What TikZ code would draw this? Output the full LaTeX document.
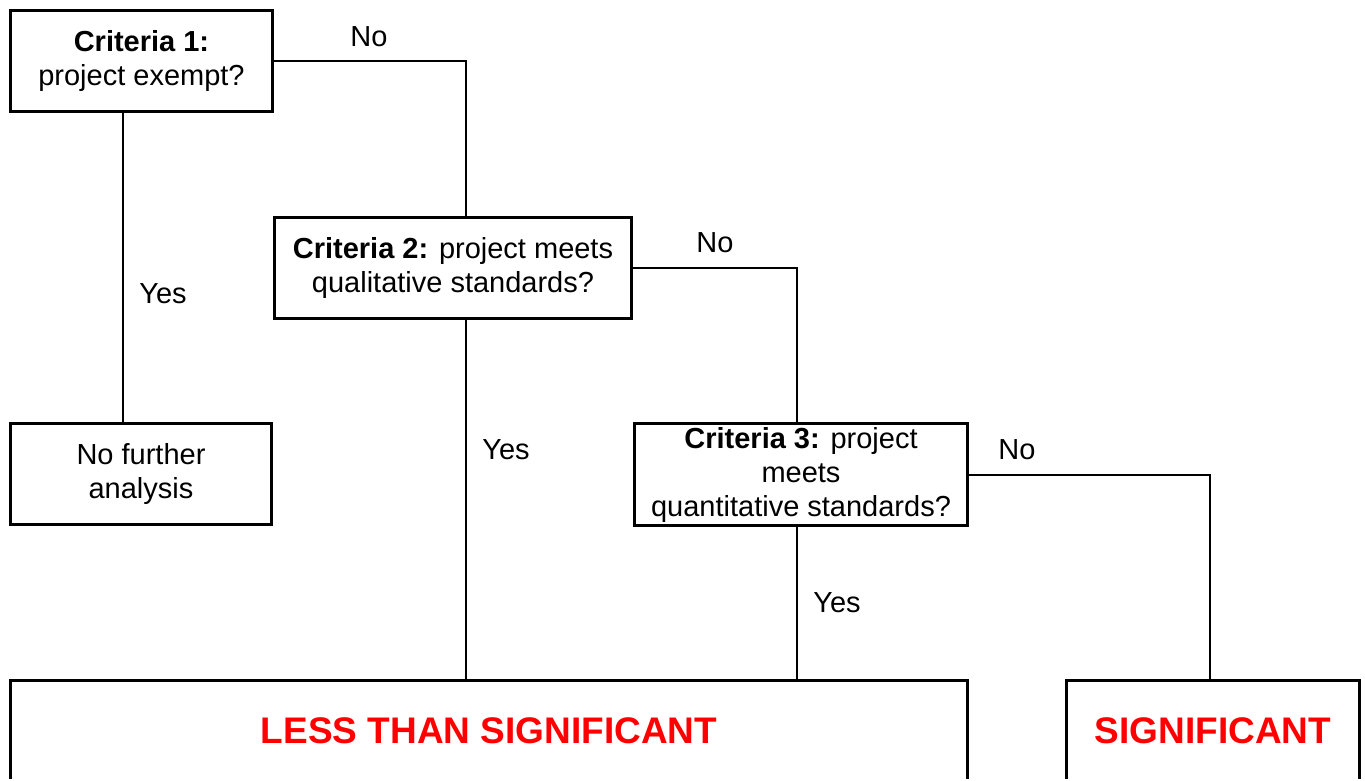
\documentclass[tikz,border=0pt]{standalone}
\usepackage{fontspec}
\setmainfont{Liberation Sans}
\usetikzlibrary{calc}
\begin{document}
\begin{tikzpicture}[x=1pt,y=-1pt,
  box/.style={draw,line width=3pt,inner sep=0pt,align=center,
    font=\fontsize{29}{34}\selectfont},
  conn/.style={line width=2pt},
  lbl/.style={font=\fontsize{29}{34}\selectfont,inner sep=0pt},
  result/.style={box,text=red,font=\fontsize{37}{44}\selectfont\bfseries}]
\useasboundingbox (0,0) rectangle (1365,780);
\clip (0,0) rectangle (1365,778);

% decision boxes
\node[box,minimum width=262pt,minimum height=101pt] (c1) at (141.5,61)
  {\textbf{Criteria 1:}\\project exempt?};
\node[box,minimum width=357pt,minimum height=101pt] (c2) at (453,268)
  {\textbf{Criteria 2:} project meets\\qualitative standards?};
\node[box,minimum width=261pt,minimum height=101pt] (nfa) at (141,474)
  {No further\\analysis};
\node[box,minimum width=333pt,minimum height=102pt] (c3) at (801,474.5)
  {\textbf{Criteria 3:} project\\meets\\quantitative standards?};

% outcome boxes (run off the lower edge)
\node[result,minimum width=957pt,minimum height=100pt] (lts) at (489,730.5)
  {LESS THAN SIGNIFICANT};
\node[result,minimum width=293pt,minimum height=100pt] (sig) at (1213,730.5)
  {SIGNIFICANT};

% vertical tracks of the connectors
\coordinate (k0) at (123,0);
\coordinate (k1) at (466,0);
\coordinate (k2) at (797,0);
\coordinate (k3) at (1210,0);

% connectors
\draw[conn] (c1.east) -| (c2.north -| k1);
\draw[conn] (c1.south -| k0) -- (nfa.north -| k0);
\draw[conn] (c2.east) -| (c3.north -| k2);
\draw[conn] (c2.south -| k1) -- (lts.north -| k1);
\draw[conn] (c3.east) -| (sig.north -| k3);
\draw[conn] (c3.south -| k2) -- (lts.north -| k2);

% branch labels
\node[lbl] (n1) at (369,37) {No};
\node[lbl] (y1) at (163,294) {Yes};
\node[lbl] (n2) at (715,243) {No};
\node[lbl] (y2) at (506,450) {Yes};
\node[lbl] (n3) at (1017,450) {No};
\node[lbl] (y3) at (837,603) {Yes};
\end{tikzpicture}
\end{document}
